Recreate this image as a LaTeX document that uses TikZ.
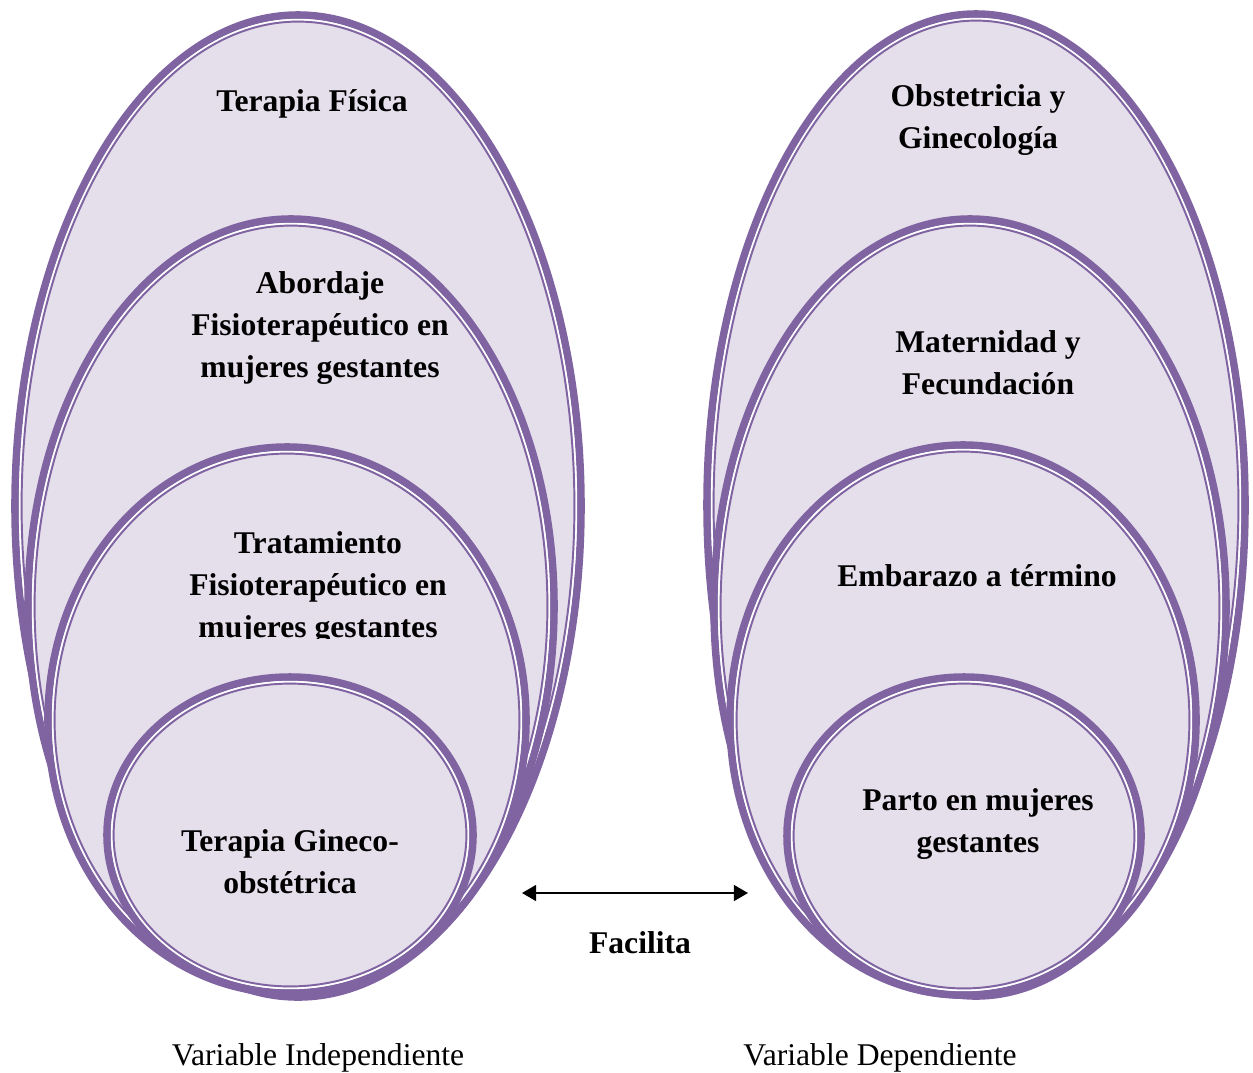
\documentclass[tikz,border=0pt]{standalone}
\usepackage{fontspec}
\setmainfont{Liberation Serif}
\usetikzlibrary{arrows.meta}
\definecolor{purp}{HTML}{8064A2}
\definecolor{lav}{HTML}{E5DFEC}
\tikzset{
  lbl/.style={align=center, font=\fontsize{18}{24}\selectfont\bfseries, inner sep=0pt},
  varlbl/.style={font=\fontsize{18}{24}\selectfont, inner sep=0pt},
  tip/.tip={Triangle[length=8pt, width=9pt]}
}
% ellipse with thick rim, white gap and thin inner line
\newcommand{\ringed}[3]{%
  \fill[lav] #1 ellipse ({#2} and {#3});
  \draw[purp, line width=4.3pt] #1 ellipse ({#2} and {#3});
  \draw[white, line width=1.0pt] #1 ellipse ({#2-4.7} and {#3-4.7});
  \draw[purp, line width=1.1pt] #1 ellipse ({#2-6.6} and {#3-6.6});
}
\begin{document}
\begin{tikzpicture}[x=0.02cm, y=0.02cm]
    \useasboundingbox (0,0) rectangle (1253,-1072);
    
    % left side
    \ringed{(298,-506)}{283}{491}
    \ringed{(291,-606)}{263}{387}
    \ringed{(287,-720)}{239}{273}
    \ringed{(290,-835)}{183}{158}
    
    % right side
    \ringed{(976,-505)}{269}{491}
    \ringed{(970,-607)}{256}{388}
    \ringed{(963,-720)}{233}{275}
    \ringed{(964,-836)}{177}{159}
    
    \node[lbl] (tfisica) at (312,-104) {Terapia Física};
    \node[lbl] (abordaje) at (320,-328) {Abordaje\\Fisioterapéutico en\\mujeres gestantes};
    \begin{scope}
    \clip (150,-500) rectangle (480,-638);
    \node[lbl] (tratamiento) at (318,-588) {Tratamiento\\Fisioterapéutico en\\mujeres gestantes};
    \end{scope}
    \node[lbl] (gineco) at (290,-862) {Terapia Gineco-\\obstétrica};
    
    \node[lbl] (obstetricia) at (978,-120) {Obstetricia y\\Ginecología};
    \node[lbl] (maternidad) at (988,-363) {Maternidad y\\Fecundación};
    \node[lbl] (embarazo) at (977,-576) {Embarazo a término};
    \node[lbl] (parto) at (978,-824) {Parto en mujeres\\gestantes};
    
    \coordinate (arrL) at (522,-893);
    \coordinate (arrR) at (748,-893);
    \draw[line width=1.1pt, tip-tip] (arrL) -- (arrR);
    \node[lbl] (facilita) at (640,-943) {Facilita};
    
    \node[varlbl] (vindep) at (318,-1058) {Variable Independiente};
    \node[varlbl] (vdep) at (880,-1058) {Variable Dependiente};
\end{tikzpicture}
\end{document}
